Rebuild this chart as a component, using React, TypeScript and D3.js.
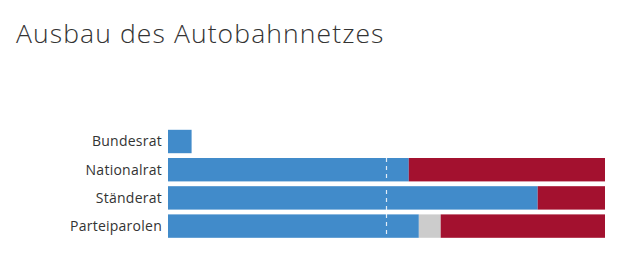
import React from "react";
import * as d3 from "d3";

const categories = ["Bundesrat", "Nationalrat", "Ständerat", "Parteiparolen"];
const yesValues = [5.4, 55.1, 84.6, 57.4];
const neutralValues = [0, 0, 0, 5.0];
const noValues = [0, 44.9, 15.4, 37.6];
const referenceLine = 50;
const title = "Ausbau des Autobahnnetzes";

const W = 643;
const H = 257;
const colors = { yes: "#418bca", neutral: "#cccccc", no: "#a3112f" };

export default function App() {
  const x = d3.scaleLinear().domain([0, 100]).range([168, 605]);
  const y = d3
    .scaleBand<string>()
    .domain(categories)
    .range([129.8, 237.8])
    .paddingInner(0.17)
    .paddingOuter(0);

  const rows = categories.map((c, i) => {
    const segs = [
      { key: "yes", start: 0, value: yesValues[i] },
      { key: "neutral", start: yesValues[i], value: neutralValues[i] },
      { key: "no", start: yesValues[i] + neutralValues[i], value: noValues[i] },
    ].filter((s) => s.value > 0);
    return { c, segs };
  });

  const lineTop = y("Nationalrat")!;
  const lineBottom = y("Parteiparolen")! + y.bandwidth();

  return (
    <svg
      width={W}
      height={H}
      style={{ position: "absolute", left: 0, top: 0, background: "#fff" }}
    >
      <text
        x={16}
        y={42.5}
        fontFamily="'Open Sans', sans-serif"
        fontWeight={300}
        fontSize={26.5}
        letterSpacing={1.1}
        fill="#333"
      >
        {title}
      </text>
      {rows.map((r) => (
        <g key={r.c}>
          <text
            x={162}
            y={y(r.c)! + y.bandwidth() / 2}
            dy="0.35em"
            textAnchor="end"
            fontFamily="'Open Sans', sans-serif"
            fontSize={14}
            letterSpacing={0.25}
            fill="#333"
          >
            {r.c}
          </text>
          {r.segs.map((s) => (
            <rect
              key={s.key}
              x={x(s.start)}
              y={y(r.c)}
              width={x(s.start + s.value) - x(s.start)}
              height={y.bandwidth()}
              fill={colors[s.key as keyof typeof colors]}
            />
          ))}
        </g>
      ))}
      <line
        x1={x(referenceLine)}
        x2={x(referenceLine)}
        y1={lineTop}
        y2={lineBottom}
        stroke="#fff"
        strokeWidth={1.2}
        strokeDasharray="4 4"
        opacity={0.85}
      />
    </svg>
  );
}
